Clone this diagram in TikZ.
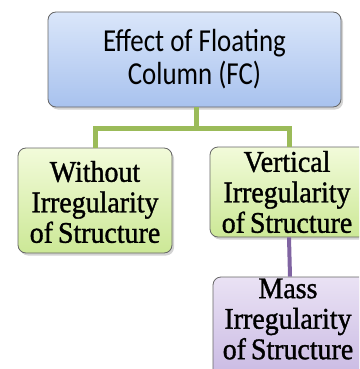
\documentclass[tikz,border=0pt]{standalone}
\usepackage{fontspec}
\usetikzlibrary{shadows}
\newfontfamily\headfont[FakeStretch=0.84]{Carlito}
\newfontfamily\boxfont[FakeStretch=0.93,FakeBold=1.2]{Liberation Serif}
\definecolor{bluetop}{RGB}{218,230,250}
\definecolor{bluebot}{RGB}{168,194,238}
\definecolor{greentop}{RGB}{242,251,218}
\definecolor{greenbot}{RGB}{204,232,150}
\definecolor{purptop}{RGB}{234,226,244}
\definecolor{purpbot}{RGB}{198,182,226}
\definecolor{greenline}{RGB}{155,187,89}
\definecolor{purpline}{RGB}{128,100,162}
\tikzset{
  box/.style={draw=gray!80!black, line width=0.8pt, rounded corners=8pt,
    inner sep=0pt, drop shadow={shadow xshift=2pt, shadow yshift=-2.5pt, opacity=0.35}},
  boxtext/.style={align=center, inner sep=0pt, font=\boxfont\fontsize{30}{30.5}\selectfont},
}

\begin{document}
\begin{tikzpicture}[x=1pt,y=-1pt]
\path[use as bounding box, clip] (0,0) rectangle (359,369);

% Boxes
\node[box, top color=bluetop, bottom color=bluebot, minimum width=293pt, minimum height=95pt] (fc) at (194.5,59.5) {};
\node[box, top color=greentop, bottom color=greenbot, minimum width=154pt, minimum height=105pt] (without) at (95,200.5) {};
\node[box, top color=greentop, bottom color=greenbot, minimum width=158pt, minimum height=90pt] (vertical) at (289,192) {};
\node[box, top color=purptop, bottom color=purpbot, minimum width=154pt, minimum height=110pt] (mass) at (290,332) {};

% Texts
\node[align=center, inner sep=0pt, font=\headfont\fontsize{32}{33}\selectfont] (fctext) at (fc.center) {Effect of Floating\\Column (FC)};
\node[boxtext] (withouttext) at (95,202) {Without\\Irregularity\\of\,Structure};
\node[boxtext] (verticaltext) at (287,192) {Vertical\\Irregularity\\of\,Structure};
\node[boxtext] (masstext) at (288,319) {Mass\\Irregularity\\of\,Structure};

% Connectors
\coordinate (split) at (196,128);
\draw[greenline, line width=5pt] (fc.south -| split) -- (split);
\draw[greenline, line width=5pt] (without.north) |- (split) -| (vertical.north);
\draw[purpline, line width=4pt] (vertical.south) -- (mass.north);
\end{tikzpicture}
\end{document}
